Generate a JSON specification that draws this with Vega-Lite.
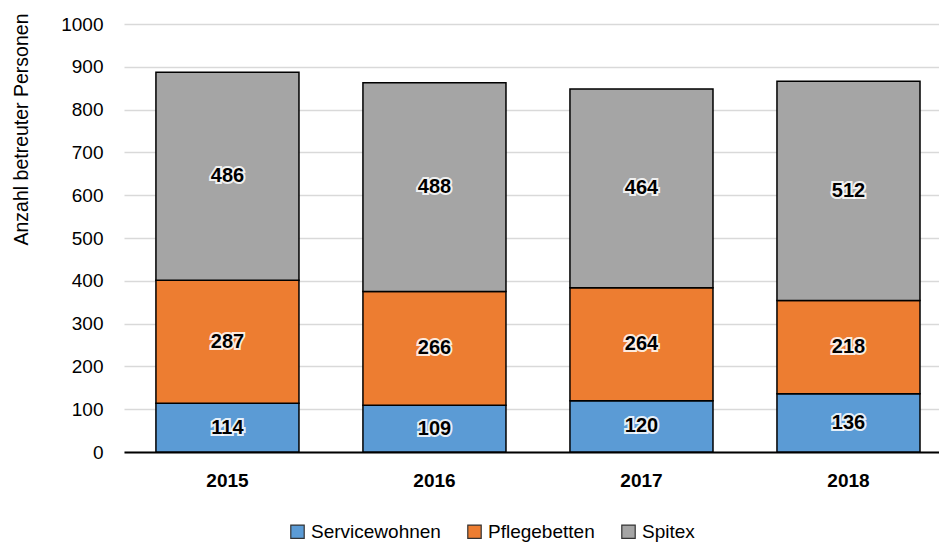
{
  "$schema": "https://vega.github.io/schema/vega-lite/v6.json",
  "width": 815,
  "height": 428,
  "autosize": {"type": "none"},
  "padding": {"left": 124, "top": 24, "right": 0, "bottom": 92},
  "background": "white",
  "config": {
    "view": {"stroke": null},
    "font": "Liberation Sans",
    "axis": {"labelColor": "black", "titleColor": "black"}
  },
  "data": {
    "values": [
      {"jahr": "2015", "kategorie": "Servicewohnen", "ord": 1, "wert": 114},
      {"jahr": "2015", "kategorie": "Pflegebetten", "ord": 2, "wert": 287},
      {"jahr": "2015", "kategorie": "Spitex", "ord": 3, "wert": 486},
      {"jahr": "2016", "kategorie": "Servicewohnen", "ord": 1, "wert": 109},
      {"jahr": "2016", "kategorie": "Pflegebetten", "ord": 2, "wert": 266},
      {"jahr": "2016", "kategorie": "Spitex", "ord": 3, "wert": 488},
      {"jahr": "2017", "kategorie": "Servicewohnen", "ord": 1, "wert": 120},
      {"jahr": "2017", "kategorie": "Pflegebetten", "ord": 2, "wert": 264},
      {"jahr": "2017", "kategorie": "Spitex", "ord": 3, "wert": 464},
      {"jahr": "2018", "kategorie": "Servicewohnen", "ord": 1, "wert": 136},
      {"jahr": "2018", "kategorie": "Pflegebetten", "ord": 2, "wert": 218},
      {"jahr": "2018", "kategorie": "Spitex", "ord": 3, "wert": 512}
    ]
  },
  "transform": [
    {"stack": "wert", "groupby": ["jahr"], "sort": [{"field": "ord", "order": "ascending"}], "as": ["y0", "y1"]},
    {"calculate": "(datum.y0 + datum.y1) / 2", "as": "ymid"}
  ],
  "encoding": {
    "x": {
      "field": "jahr",
      "type": "nominal",
      "scale": {"paddingInner": 0.309, "paddingOuter": 0.123, "align": 0.627},
      "axis": {
        "title": null,
        "labelAngle": 0,
        "labelFontSize": 19,
        "labelFontWeight": "bold",
        "labelPadding": 19,
        "ticks": false,
        "domain": true,
        "domainColor": "black",
        "domainWidth": 2,
        "grid": false
      }
    }
  },
  "layer": [
    {
      "mark": {"type": "bar", "stroke": "black", "strokeWidth": 1.5},
      "encoding": {
        "y": {
          "field": "y0",
          "type": "quantitative",
          "scale": {"domain": [0, 1000], "nice": false},
          "axis": {
            "title": "Anzahl betreuter Personen",
            "titleFontSize": 19.5,
            "titleFontWeight": "normal",
            "titlePadding": 29,
            "titleAnchor": "end",
            "titleY": -11,
            "format": "d",
            "values": [0, 100, 200, 300, 400, 500, 600, 700, 800, 900, 1000],
            "labelFontSize": 19,
            "labelPadding": 21,
            "domain": false,
            "ticks": false,
            "grid": true,
            "gridColor": "#d9d9d9",
            "gridWidth": 1.5
          }
        },
        "y2": {"field": "y1"},
        "color": {
          "field": "kategorie",
          "type": "nominal",
          "scale": {
            "domain": ["Servicewohnen", "Pflegebetten", "Spitex"],
            "range": ["#5B9BD5", "#ED7D31", "#A5A5A5"]
          },
          "legend": {
            "title": null,
            "orient": "none",
            "legendX": 164,
            "legendY": 498,
            "direction": "horizontal",
            "columns": 3,
            "symbolType": "square",
            "symbolSize": 180,
            "symbolStrokeColor": "#333333",
            "symbolStrokeWidth": 1.2,
            "labelFontSize": 19,
            "labelColor": "black",
            "columnPadding": 24,
            "labelOffset": 4
          }
        },
        "order": {"field": "ord"}
      }
    },
    {
      "mark": {"type": "text", "fontSize": 20, "fontWeight": "bold", "stroke": "white", "strokeWidth": 4, "strokeOpacity": 0.85, "fill": "white", "baseline": "middle"},
      "encoding": {
        "y": {"field": "ymid", "type": "quantitative"},
        "text": {"field": "wert", "type": "quantitative"}
      }
    },
    {
      "mark": {"type": "text", "fontSize": 20, "fontWeight": "bold", "fill": "black", "baseline": "middle"},
      "encoding": {
        "y": {"field": "ymid", "type": "quantitative"},
        "text": {"field": "wert", "type": "quantitative"}
      }
    }
  ]
}
